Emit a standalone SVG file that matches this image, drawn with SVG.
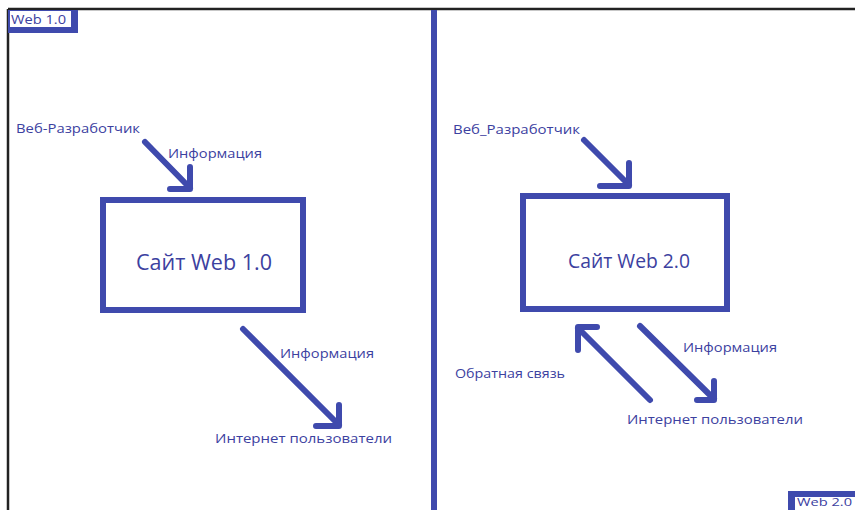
<svg xmlns="http://www.w3.org/2000/svg" width="855" height="510" viewBox="0 0 855 510">
<style>
.t{font-family:"Open Sans","Noto Sans","Liberation Sans",sans-serif;fill:#3c419f}
.s{font-size:13px}
.b{font-size:20px}
.box{fill:none;stroke:#3f4aad;stroke-width:6}
.ar{fill:none;stroke:#3f4aad;stroke-width:6;stroke-linecap:round;stroke-linejoin:round}
</style>
<rect width="855" height="510" fill="#fff"/>
<g id="frame">
<line x1="8" y1="9" x2="855" y2="9" stroke="#222" stroke-width="2.5"/>
<line x1="8" y1="9" x2="8" y2="510" stroke="#222" stroke-width="2.5"/>
<line x1="434" y1="10" x2="434" y2="510" stroke="#3f4aad" stroke-width="6"/>
</g>
<g id="label-web1">
<rect x="8" y="10" width="70" height="23" fill="#3f4aad"/>
<rect x="10" y="11" width="61" height="16" fill="#fff"/>
<text class="t" x="11" y="24" font-size="12" textLength="55" lengthAdjust="spacingAndGlyphs">Web 1.0</text>
</g>
<g id="label-web2">
<rect x="788" y="491" width="67" height="19" fill="#3f4aad"/>
<rect x="795" y="497" width="60" height="13" fill="#fff"/>
<text class="t" x="797" y="506" font-size="11" textLength="55" lengthAdjust="spacingAndGlyphs">Web 2.0</text>
</g>
<g id="site1">
<rect class="box" x="103" y="200" width="200" height="110"/>
<text class="t" x="204" y="270" font-size="21" text-anchor="middle" textLength="136" lengthAdjust="spacingAndGlyphs">Сайт Web 1.0</text>
</g>
<g id="site2">
<rect class="box" x="523" y="196" width="204" height="113"/>
<text class="t b" x="629" y="268" text-anchor="middle" textLength="122" lengthAdjust="spacingAndGlyphs">Сайт Web 2.0</text>
</g>
<g id="dev1"><text class="t s" x="16" y="133" textLength="124" lengthAdjust="spacingAndGlyphs">Веб-Разработчик</text></g>
<g id="users1"><text class="t s" x="215" y="443" textLength="177" lengthAdjust="spacingAndGlyphs">Интернет пользователи</text></g>
<g id="dev2"><text class="t s" x="453" y="134" textLength="127" lengthAdjust="spacingAndGlyphs">Веб_Разработчик</text></g>
<g id="users2"><text class="t s" x="627" y="424" textLength="176" lengthAdjust="spacingAndGlyphs">Интернет пользователи</text></g>
<g id="connectors">
<path class="ar" d="M145 142 L190 188 M190 167 L190 189 L170 189"/>
<text class="t s" x="168" y="158" textLength="94" lengthAdjust="spacingAndGlyphs">Информация</text>
<path class="ar" d="M243 329 L339 425 M339 405 L339 426 L316 426"/>
<text class="t s" x="280" y="358" textLength="94" lengthAdjust="spacingAndGlyphs">Информация</text>
<path class="ar" d="M584 140 L629 185 M629 163 L629 186 L600 186"/>
<path class="ar" d="M650 400 L578 328 M578 350 L578 327 L597 327"/>
<text class="t s" x="455" y="378" textLength="110" lengthAdjust="spacingAndGlyphs">Обратная связь</text>
<path class="ar" d="M640 326 L714 399 M714 381 L714 400 L697 400"/>
<text class="t s" x="683" y="352" textLength="94" lengthAdjust="spacingAndGlyphs">Информация</text>
</g>
</svg>
